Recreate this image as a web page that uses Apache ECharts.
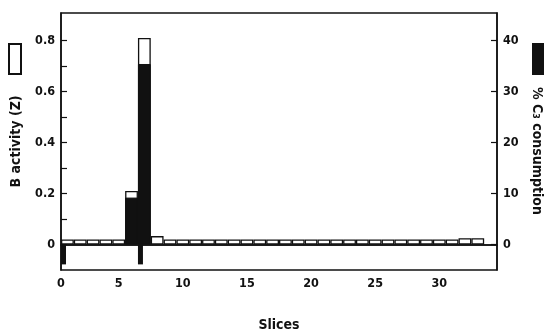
<!DOCTYPE html>
<html>
<head>
<meta charset="utf-8">
<script src="https://cdn.jsdelivr.net/npm/echarts@6/dist/echarts.min.js"></script>
<style>
html, body { margin: 0; padding: 0; background: #fff; }
#chart { width: 544px; height: 335px; }
</style>
</head>
<body>
<div id="chart"></div>
<script>
// slice numbers 1..33
var slices = [1, 2, 3, 4, 5, 6, 7, 8, 9, 10, 11, 12, 13, 14, 15, 16, 17, 18, 19, 20,
  21, 22, 23, 24, 25, 26, 27, 28, 29, 30, 31, 32, 33];
// B activity (Z), left axis
var bActivity = [0.02, 0.02, 0.02, 0.02, 0.02, 0.21, 0.81, 0.033, 0.02, 0.02,
  0.02, 0.02, 0.02, 0.02, 0.02, 0.02, 0.02, 0.02, 0.02, 0.02,
  0.02, 0.02, 0.02, 0.02, 0.02, 0.02, 0.02, 0.02, 0.02, 0.02,
  0.02, 0.025, 0.025];
// % C3 consumption, right axis (only slices with a black bar)
var c3Slices = [6, 7];
var c3Values = [9.2, 35.4];
// small black marks under the zero line
var markSlices = [1, 7];
var markValues = [-3.9, -3.9];

var leftTicks = [0, 0.1, 0.2, 0.3, 0.4, 0.5, 0.6, 0.7, 0.8];
var leftLabels = [0, 0.2, 0.4, 0.6, 0.8];
var rightLabels = [0, 10, 20, 30, 40];
var xLabels = [0.5, 5, 10, 15, 20, 25, 30];

var font = "DejaVu Sans Condensed";
var ink = "#111";

var chart = echarts.init(document.getElementById("chart"));

var option = {
  backgroundColor: "#fff",
  animation: false,
  textStyle: { fontFamily: font, color: ink },
  grid: {
    left: 61, right: 47, top: 13, bottom: 65,
    outerBoundsMode: "none",
    containLabel: false,
    show: true, borderColor: ink, borderWidth: 1.5, backgroundColor: "transparent"
  },
  legend: [
    {
      data: ["B activity (Z)"], left: 8, top: 43, orient: "vertical", padding: 0,
      icon: "rect", itemWidth: 12, itemHeight: 30, selectedMode: false,
      formatter: function () { return ""; }
    },
    {
      data: ["% C3 consumption"], left: 532, top: 43, orient: "vertical", padding: 0,
      icon: "rect", itemWidth: 12, itemHeight: 30, selectedMode: false,
      formatter: function () { return ""; }
    }
  ],
  xAxis: {
    type: "value",
    min: 0.5,
    max: 34.5,
    name: "Slices",
    nameLocation: "middle",
    nameGap: 48,
    nameTextStyle: { fontSize: 14, fontWeight: "bold", color: ink, fontFamily: font },
    axisLine: { show: true, lineStyle: { color: ink, width: 1.5 } },
    axisTick: { show: false },
    splitLine: { show: false },
    axisLabel: {
      customValues: xLabels,
      fontSize: 12.5, fontWeight: "bold", color: ink, margin: 7,
      formatter: function (v) { return v < 1 ? "0" : String(v); }
    }
  },
  yAxis: [
    {
      type: "value",
      position: "left",
      min: -0.1,
      max: 0.908,
      name: "B activity (Z)",
      nameLocation: "middle",
      nameGap: 38,
      nameTextStyle: { fontSize: 14, fontWeight: "bold", color: ink, fontFamily: font },
      axisLine: { show: true, lineStyle: { color: ink, width: 1.5 } },
      axisTick: { show: true, inside: true, length: 6, customValues: leftTicks,
        lineStyle: { color: ink, width: 1.2 } },
      splitLine: { show: false },
      axisLabel: {
        customValues: leftLabels,
        fontSize: 12.5, fontWeight: "bold", color: ink, margin: 6
      }
    },
    {
      type: "value",
      position: "right",
      min: -5,
      max: 45.4,
      name: "% C\u2083 consumption",
      nameLocation: "middle",
      nameRotate: -90,
      nameGap: 31,
      nameTextStyle: { fontSize: 14, fontWeight: "bold", color: ink, fontFamily: font,
        padding: [0, 0, 0, 19] },
      axisLine: { show: true, lineStyle: { color: ink, width: 1.5 } },
      axisTick: { show: true, inside: true, length: 6, customValues: rightLabels,
        lineStyle: { color: ink, width: 1.2 } },
      splitLine: { show: false },
      axisLabel: {
        customValues: rightLabels,
        fontSize: 12.5, fontWeight: "bold", color: ink, margin: 6
      }
    }
  ],
  series: [
    {
      name: "marks",
      type: "bar",
      yAxisIndex: 1,
      barWidth: 5,
      barGap: "-100%",
      itemStyle: { color: ink },
      data: markSlices.map(function (s, i) { return [s, markValues[i]]; })
    },
    {
      name: "B activity (Z)",
      type: "bar",
      yAxisIndex: 0,
      barWidth: 12.8,
      barGap: "-100%",
      itemStyle: { color: "#fff", borderColor: ink, borderWidth: 1.3 },
      data: slices.map(function (s, i) { return [s, bActivity[i]]; }),
      markLine: {
        silent: true,
        symbol: "none",
        label: { show: false },
        lineStyle: { color: ink, width: 1.5, type: "solid" },
        data: [{ yAxis: 0 }]
      }
    },
    {
      name: "% C3 consumption",
      type: "bar",
      yAxisIndex: 1,
      barWidth: 12.8,
      barGap: "-100%",
      itemStyle: { color: ink, borderColor: ink, borderWidth: 1 },
      data: c3Slices.map(function (s, i) { return [s, c3Values[i]]; })
    }
  ]
};

chart.setOption(option);
</script>
</body>
</html>
